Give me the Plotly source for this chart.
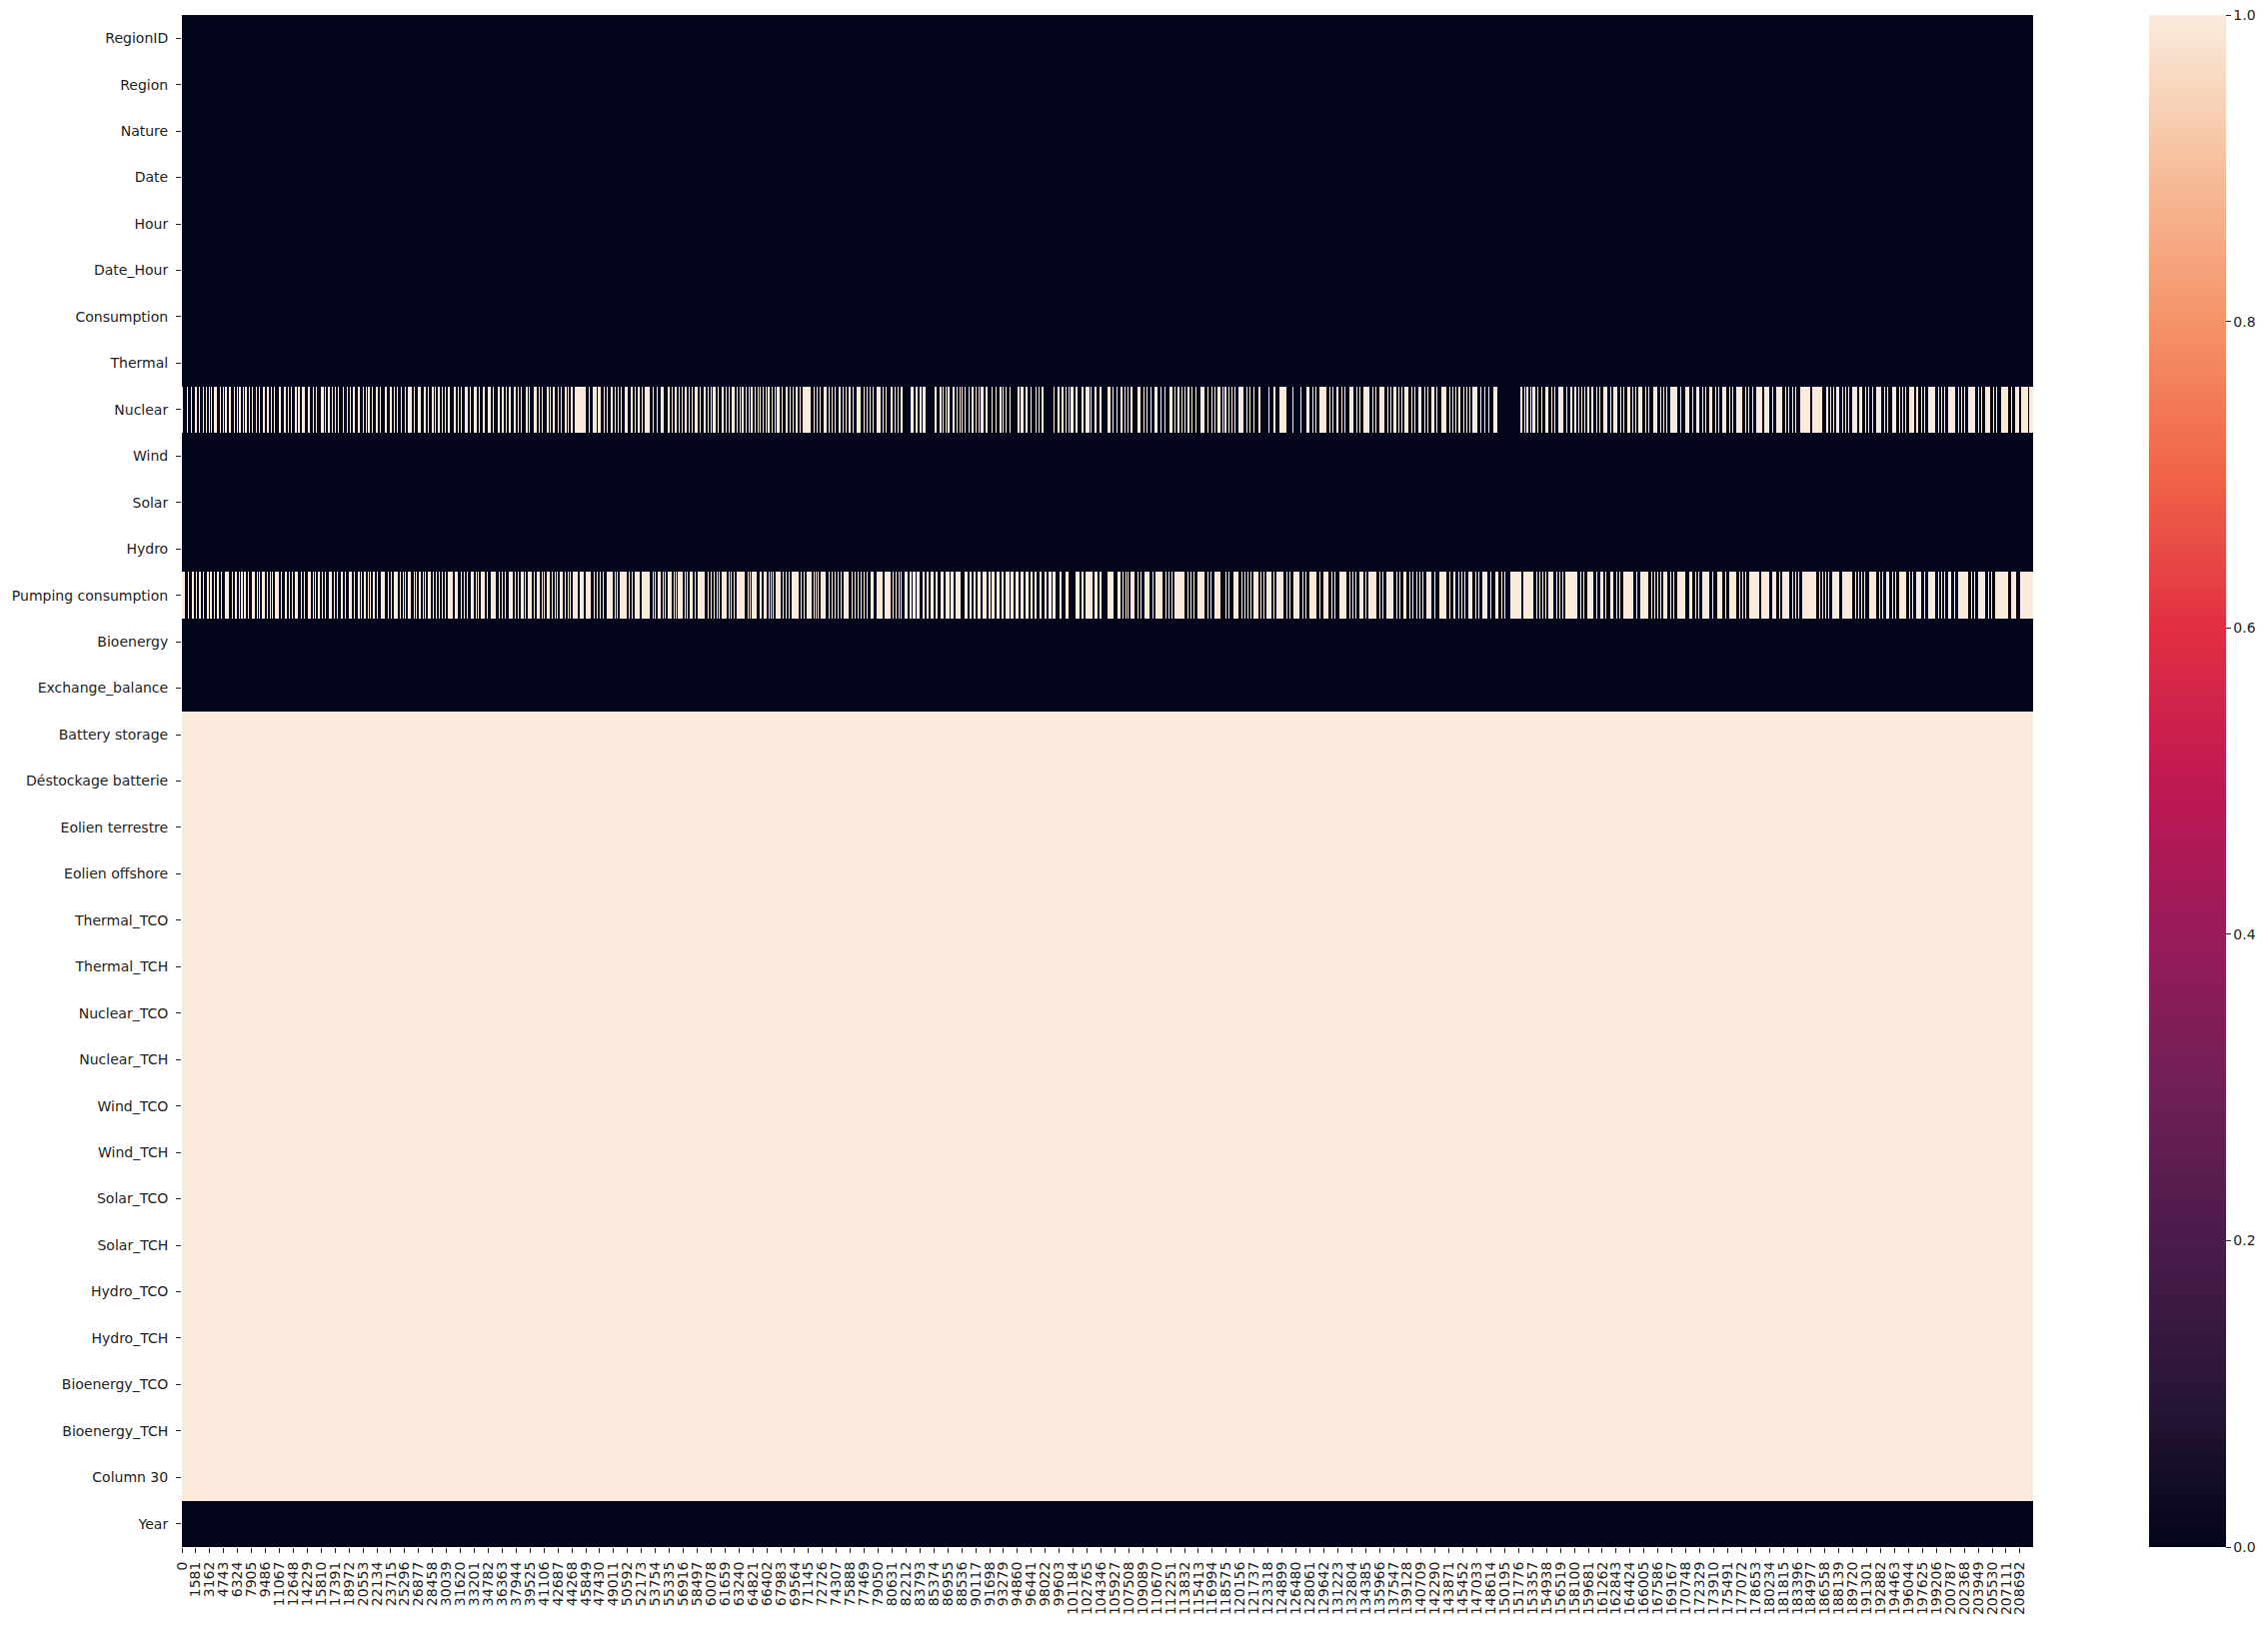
import plotly.graph_objects as go

# ---------------- data ----------------
features = ["RegionID", "Region", "Nature", "Date", "Hour", "Date_Hour", "Consumption",
            "Thermal", "Nuclear", "Wind", "Solar", "Hydro", "Pumping consumption",
            "Bioenergy", "Exchange_balance", "Battery storage", "Déstockage batterie",
            "Eolien terrestre", "Eolien offshore", "Thermal_TCO", "Thermal_TCH",
            "Nuclear_TCO", "Nuclear_TCH", "Wind_TCO", "Wind_TCH", "Solar_TCO",
            "Solar_TCH", "Hydro_TCO", "Hydro_TCH", "Bioenergy_TCO", "Bioenergy_TCH",
            "Column 30", "Year"]

# columns that are entirely missing
fully_missing = ["Battery storage", "Déstockage batterie", "Eolien terrestre", "Eolien offshore",
                 "Thermal_TCO", "Thermal_TCH", "Nuclear_TCO", "Nuclear_TCH", "Wind_TCO",
                 "Wind_TCH", "Solar_TCO", "Solar_TCH", "Hydro_TCO", "Hydro_TCH",
                 "Bioenergy_TCO", "Bioenergy_TCH", "Column 30"]

rows_per_block = 113        # missing mask aggregated into blocks of 113 rows
n_blocks = 1860             # -> 210180 rows

# missing blocks: an int is a single block, a tuple an inclusive run
nuclear_missing = [
    0, 5, 9, (13, 14), 17, 21, 24, 27, 29, (32, 34), 38, 41, (43, 44), (47, 48), 52, 55,
    (57, 58), 61, (63, 64), 67, 70, 74, 77, (81, 82), (85, 86), 89, 92, (97, 98), (102, 103),
    106, 109, (113, 114), (117, 118), (121, 123), (127, 128), 132, 135, (140, 142), 144,
    (147, 148), 151, 154, 157, 162, 166, 169, (172, 173), (177, 178), 182, 185, (187, 188),
    191, (195, 196), 199, (204, 205), (209, 210), 213, 216, 220, 224, (227, 230), 233,
    (237, 239), (243, 244), 247, (251, 252), 254, (257, 258), 261, 264, (267, 268),
    (273, 274), 277, 280, (284, 286), 289, (293, 295), 298, (302, 303), (307, 309), 312,
    (317, 318), (321, 322), 325, (328, 329), (333, 334), 337, 340, (345, 346), 349,
    (354, 356), 359, 362, (367, 368), 370, (373, 374), 378, 381, (385, 386), 388, (391, 392),
    (395, 405), 409, (413, 416), (418, 420), 424, 427, (431, 432), 435, 438, 441, (445, 447),
    (451, 452), 455, (458, 459), 462,
    (465, 469), 473, 477, (481, 483), (488, 489), 492, (495, 496), 499, 502, (505, 506), 509,
    512, (515, 517), 520, (524, 525), 528, 531, (533, 535), 538, (542, 543), 546, 549,
    (552, 554), 557, 560, (562, 563), 566, 569, (571, 572), 575, 578, (580, 581), 584, 587,
    (589, 590), 593, 596, (598, 600), 603, (607, 608), 611, 614, (617, 618), 621, (624, 631),
    635, 638, 641, (645, 647), 650, 653, 656, (660, 661), 664, 667, (670, 671), 674,
    (678, 681), 685, 688, 691, 694, (698, 701), 704, 707, (712, 713), 716, 719, (722, 723),
    (732, 734), (737, 738), (741, 742), (744, 746), (756, 757), (761, 762), 764, 767,
    (769, 770), (774, 775), 778, 781, 783, 786, 790, (793, 794), 797, 800, (802, 804),
    (807, 808), (813, 814), 818, (822, 823), 825, 828, 832, (840, 841), (843, 845),
    (848, 849), 853, 858, 861, (864, 865), 876, (880, 881), (884, 885), 888, 891, (893, 895),
    (898, 899), (904, 905), (908, 911), 913, (917, 918), (922, 923),
    (930, 932), 935, 939, (943, 944), 947, 950, (953, 954), (960, 962), 966, 969, 973,
    (977, 979), 983, 987, (992, 994), 997, (1000, 1001), 1004, 1007, (1010, 1011), 1014,
    1018, (1023, 1026), 1030, 1034, 1037, (1040, 1042), 1045, (1048, 1049), 1052, 1055,
    1058, (1062, 1066), 1070, 1073, 1077, (1082, 1083), 1092, (1097, 1098), (1103, 1109),
    1116, 1124, (1130, 1132), 1136, 1139, (1143, 1149), 1153, 1156, (1160, 1161), 1165,
    1168, (1173, 1176), 1180, 1183, (1187, 1192), 1196, 1199, (1203, 1207), 1211, 1214,
    (1217, 1219), 1222, 1225, (1228, 1231), 1235, 1238, (1242, 1244), 1248, 1251,
    (1255, 1257), 1260, (1265, 1269), 1273, 1276, 1280, (1283, 1284), 1288, 1291, 1294,
    (1297, 1301), 1305, 1309, 1313, (1318, 1321), (1345, 1346), 1349, (1351, 1352), 1355,
    (1357, 1359), 1362, 1366, (1370, 1372), 1376, 1379, (1383, 1387), 1391,
    (1395, 1396), (1399, 1400), 1403, 1406, 1409, (1412, 1413), (1416, 1417), 1421, 1424,
    (1428, 1431), 1435, (1438, 1441), 1445, 1448, (1452, 1454), 1457, 1460, (1463, 1466),
    1470, 1473, (1478, 1481), 1485, 1488, 1491, (1495, 1501), 1505, (1510, 1514), 1518,
    (1522, 1524), 1528, 1531, (1535, 1537), 1541, 1544, (1548, 1551), 1555, 1558,
    (1562, 1567), 1571, 1574, 1578, (1582, 1587), (1590, 1594), 1598, (1602, 1607), 1611,
    1614, 1618, 1621, (1626, 1635), (1638, 1647), (1652, 1653), 1656, 1659, (1662, 1664),
    1668, 1671, 1674, (1678, 1682), (1685, 1687), 1691, 1694, 1698, (1702, 1706), 1710,
    1713, (1718, 1721), 1725, 1728, 1731, (1735, 1739), (1742, 1744), 1748, 1751,
    (1755, 1761), 1765, 1768, 1771, (1775, 1781), 1785, 1788, 1791, (1795, 1801), 1805,
    1808, (1812, 1816), 1820, 1823, (1828, 1834), 1838, (1842, 1845), (1848, 1854),
    (1856, 1859),
]

pumping_missing = [
    (0, 2), 6, (10, 11), 14, (17, 18), 21, (25, 26), (28, 29), 32, (35, 36), 39, (43, 46), 50,
    (53, 54), 57, (59, 60), (62, 63), 66, (70, 72), 75, 77, (80, 82), 85, 88, 90, (93, 96), 99,
    (103, 104), 107, 110, (113, 116), 120, 123, (127, 129), 132, 134, (137, 138), 141, 144,
    (148, 150), 153, 156, (160, 161), 164, (168, 170), 173, (177, 178), 180, (183, 184), 187,
    189, (192, 193), 196, (200, 203), 207, 210, (213, 216), 219, 222, 224, (227, 229), 233,
    235, (238, 239), 242, 244, (247, 249), 252, 255, 258, 261, 264, (267, 271), (274, 276),
    280, 283, 286, (290, 292), 295, 297, (300, 303), 306, (310, 314), 318, 321, 324,
    (328, 331), 334, 337, (340, 342), 344, (347, 351), 354, (357, 359), 362, 364, (367, 369),
    372, 375, 377, (380, 382), 385, 388, 390, (393, 397), (400, 403), (406, 410), 414, 417,
    420, 423, (427, 432), 435, 437, (440, 446), 449, 452, (455, 459), (462, 464),
    (465, 469), 473, 475, (478, 480), 483, 485, (488, 491), 494, 496, (498, 502), 505, 507,
    (510, 512), 515, (518, 524), 528, 531, 534, 537, 539, (542, 546), 549, 551, 554,
    (557, 564), 568, 570, (572, 576), 580, 582, (585, 587), 590, 592, 594, (597, 601), 604,
    607, 610, (613, 619), 622, 625, (628, 632), 635, 637, 639, (642, 646), 650, 653, 656,
    659, 662, (665, 669), 673, 676, 679, 682, 685, 688, (692, 694), (698, 703), (706, 711),
    714, 717, 720, 722,
    (726, 728), (731, 732), (734, 736), (738, 740), (744, 745), (748, 749), (752, 754),
    (757, 758), (762, 764), (767, 770), (772, 774), (777, 781), (786, 788), (791, 792),
    (795, 796), (799, 801), (804, 807), (810, 811), (814, 816), (819, 821), (824, 825),
    (828, 831), (833, 835), (838, 840), (843, 845), (848, 850), (853, 854), (857, 858),
    (862, 863), (867, 868), (871, 873), (875, 877), (882, 883), (888, 890), (898, 901),
    (904, 905), (908, 911), (912, 914), (917, 919), (922, 923),
    (930, 935), (940, 942), 945, 948, 950, (953, 956), 960, 963, (967, 971), 975, (978, 984),
    988, 991, 994, (997, 1006), 1010, 1013, 1016, (1020, 1026), 1030, 1033, (1037, 1042),
    1046, 1049, 1052, (1057, 1061), 1065, 1068, 1071, 1074, (1077, 1081), 1084, 1087,
    (1090, 1094), 1097, (1100, 1106), 1110, 1113, (1117, 1122), 1126, 1129, (1133, 1139),
    1143, (1147, 1151), 1155, 1158, (1163, 1169), 1173, 1176, 1179, (1183, 1186), 1189,
    (1192, 1199), 1203, 1206, (1210, 1216), 1220, 1223, (1227, 1229), 1233, 1236, 1240,
    1243, 1246, (1250, 1254), 1258, (1263, 1269), 1273, (1277, 1279), 1283, 1286, 1289,
    (1293, 1296), 1300, 1303, (1307, 1311), 1315, (1320, 1322), 1326, 1329, (1335, 1345),
    (1348, 1357), 1361, 1364, 1367, 1370, (1373, 1377), 1381, 1384, 1387, (1390, 1394),
    (1395, 1401), 1405, 1408, (1412, 1417), 1421, (1425, 1427), 1430, (1435, 1437), 1441,
    1444, (1448, 1457), 1461, (1465, 1472), 1476, 1479, 1482, 1485, (1488, 1491), 1495,
    1498, (1502, 1509), (1515, 1517), 1521, 1524, (1528, 1534), 1538, (1543, 1547), 1551,
    (1555, 1561), 1565, 1568, 1571, (1575, 1584), (1587, 1594), (1598, 1601), 1605,
    (1608, 1614), 1618, 1621, 1624, (1628, 1641), 1645, 1648, 1651, 1654, (1658, 1664),
    (1668, 1677), 1681, 1684, 1687, 1690, (1695, 1701), 1705, 1708, (1712, 1714), 1718,
    1721, (1725, 1731), 1735, 1738, (1742, 1747), 1751, (1755, 1761), 1765, 1768, 1771,
    (1775, 1777), 1781, (1785, 1794), 1798, 1801, (1805, 1811), 1815, 1818, (1822, 1834),
    (1838, 1842), (1847, 1859),
]

tick_step = 1581
n_ticks = 133
colorbar_ticks = [0.0, 0.2, 0.4, 0.6, 0.8, 1.0]

# seaborn "rocket" colormap
rocket = [
    [0.0, "rgb(3,5,26)"], [0.1, "rgb(40,22,56)"], [0.2, "rgb(75,27,75)"],
    [0.3, "rgb(112,31,87)"], [0.4, "rgb(153,27,90)"], [0.5, "rgb(192,24,82)"],
    [0.6, "rgb(225,47,66)"], [0.7, "rgb(240,100,72)"], [0.8, "rgb(245,147,106)"],
    [0.9, "rgb(246,190,155)"], [1.0, "rgb(250,235,221)"],
]

# ---------------- build matrix ----------------
runs = {"Nuclear": nuclear_missing, "Pumping consumption": pumping_missing}
z = []
for f in features:
    if f in fully_missing:
        row = [1] * n_blocks
    else:
        row = [0] * n_blocks
        for item in runs.get(f, []):
            a, b = (item, item) if isinstance(item, int) else item
            for i in range(a, min(b, n_blocks - 1) + 1):
                row[i] = 1
    z.append(row)

x_centers = [i * rows_per_block + rows_per_block / 2 for i in range(n_blocks)]
y_idx = list(range(len(features)))
n_rows = n_blocks * rows_per_block

font = "DejaVu Sans, Liberation Sans, sans-serif"

fig = go.Figure(go.Heatmap(
    z=z, x=x_centers, y=y_idx, zmin=0, zmax=1, colorscale=rocket, zsmooth=False,
    hoverinfo="skip",
    colorbar=dict(
        x=(2151 - 175) / 1860, xanchor="left", xpad=0, ypad=0,
        y=0.5, yanchor="middle", len=1, lenmode="fraction", thickness=77,
        outlinewidth=0, ticks="outside", ticklen=5, tickwidth=1, tickcolor="#222",
        tickvals=colorbar_ticks, ticktext=[f"{v:.1f}" for v in colorbar_ticks],
        tickfont=dict(family=font, size=14, color="#222"),
    ),
))

tickvals = [i * tick_step + 0.5 for i in range(n_ticks)]
ticktext = [str(i * tick_step) for i in range(n_ticks)]

fig.update_xaxes(
    range=[0, n_rows], tickmode="array", tickvals=tickvals, ticktext=ticktext,
    tickangle=-90, ticks="outside", ticklen=5, tickwidth=1, tickcolor="#222",
    ticklabelstandoff=3,
    tickfont=dict(family=font, size=14, color="#222"),
    showgrid=False, zeroline=False, showline=False,
)
fig.update_yaxes(
    range=[len(features) - 0.5, -0.5], tickmode="array", tickvals=y_idx, ticktext=features,
    ticks="outside", ticklen=5, tickwidth=1, tickcolor="#222",
    ticklabelstandoff=5,
    tickfont=dict(family=font, size=14, color="#222"),
    showgrid=False, zeroline=False, showline=False,
)
fig.update_layout(
    width=2269, height=1628,
    margin=dict(l=175, r=234, t=15, b=73),
    paper_bgcolor="white", plot_bgcolor="white",
)

fig.write_html("out.html")
